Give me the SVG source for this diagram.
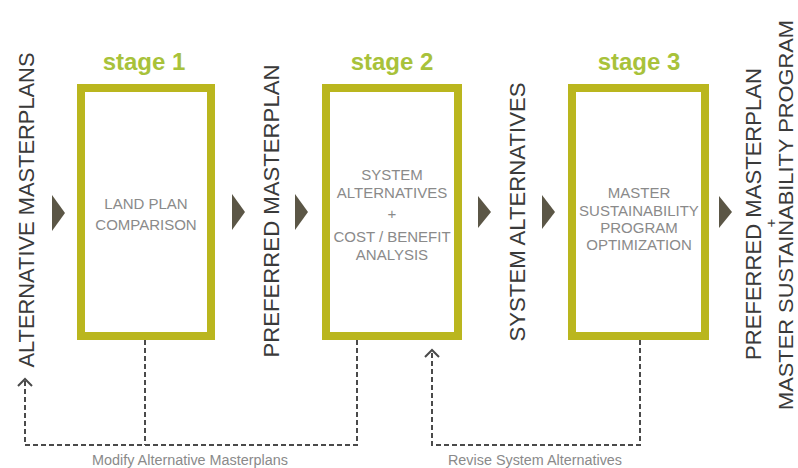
<svg xmlns="http://www.w3.org/2000/svg" width="798" height="468" viewBox="0 0 798 468">
<style>
.box{fill:#ffffff;stroke:#bab61e;stroke-width:8}
.stage{font-family:"Liberation Sans",Arial,sans-serif;font-weight:bold;font-size:24px;fill:#a8c23a;text-anchor:middle}
.inner{font-family:"Liberation Sans",Arial,sans-serif;font-size:15px;fill:#8a8a8a;text-anchor:middle}
.vert{font-family:"Liberation Sans",Arial,sans-serif;font-size:22px;fill:#3a3a3a;text-anchor:middle}
.tri{fill:#5b5646}
.dash{fill:none;stroke:#4a4a4a;stroke-width:2;stroke-dasharray:5 3}
.head{fill:none;stroke:#4a4a4a;stroke-width:2}
.note{font-family:"Liberation Sans",Arial,sans-serif;font-size:14px;fill:#8a8a8a;text-anchor:middle}
</style>
<rect width="798" height="468" fill="#ffffff"/>

<g id="connectors">
  <path class="dash" d="M145,340 V445"/>
  <path class="dash" d="M357,340 V445 H25 V381"/>
  <path class="head" d="M18,386 L25,379 L32,386"/>
  <path class="dash" d="M640,340 V445 H432 V352"/>
  <path class="head" d="M425,357 L432,350 L439,357"/>
  <text class="note" x="190" y="465" textLength="196" lengthAdjust="spacingAndGlyphs">Modify Alternative Masterplans</text>
  <text class="note" x="535" y="465" textLength="174" lengthAdjust="spacingAndGlyphs">Revise System Alternatives</text>
  <polygon class="tri" points="52,195 65,213 52,231"/>
  <polygon class="tri" points="232,194 245,212 232,230"/>
  <polygon class="tri" points="295,194 308,212 295,230"/>
  <polygon class="tri" points="478,196 491,212 478,228"/>
  <polygon class="tri" points="542,195 555,212 542,229"/>
  <polygon class="tri" points="719,196 732,212 719,228"/>
</g>

<g id="input">
  <text class="vert" transform="translate(34,210) rotate(-90)" textLength="315" lengthAdjust="spacingAndGlyphs">ALTERNATIVE MASTERPLANS</text>
</g>

<g id="stage1">
  <text class="stage" x="144" y="70">stage 1</text>
  <rect class="box" x="81" y="88" width="130" height="248"/>
  <text class="inner" x="146" y="209">LAND PLAN</text>
  <text class="inner" x="146" y="230">COMPARISON</text>
</g>

<g id="preferred">
  <text class="vert" transform="translate(279,211) rotate(-90)" textLength="293" lengthAdjust="spacingAndGlyphs">PREFERRED MASTERPLAN</text>
</g>

<g id="stage2">
  <text class="stage" x="392" y="70">stage 2</text>
  <rect class="box" x="326" y="88" width="132" height="248"/>
  <text class="inner" x="392" y="180">SYSTEM</text>
  <text class="inner" x="392" y="198">ALTERNATIVES</text>
  <text class="inner" x="392" y="219">+</text>
  <text class="inner" x="392" y="242">COST / BENEFIT</text>
  <text class="inner" x="392" y="260">ANALYSIS</text>
</g>

<g id="sysalt">
  <text class="vert" transform="translate(525,212) rotate(-90)" textLength="259" lengthAdjust="spacingAndGlyphs">SYSTEM ALTERNATIVES</text>
</g>

<g id="stage3">
  <text class="stage" x="639" y="70">stage 3</text>
  <rect class="box" x="572" y="88" width="133" height="248"/>
  <text class="inner" x="639" y="198">MASTER</text>
  <text class="inner" x="639" y="216">SUSTAINABILITY</text>
  <text class="inner" x="639" y="233">PROGRAM</text>
  <text class="inner" x="639" y="250">OPTIMIZATION</text>
</g>

<g id="output">
  <text class="vert" transform="translate(761,214) rotate(-90)" textLength="292" lengthAdjust="spacingAndGlyphs">PREFERRED MASTERPLAN</text>
  <text class="vert" style="font-size:15px" transform="translate(776,223) rotate(-90)">+</text>
  <text class="vert" style="font-size:21px" transform="translate(793,215) rotate(-90)" textLength="390" lengthAdjust="spacingAndGlyphs">MASTER SUSTAINABILITY PROGRAM</text>
</g>
</svg>
